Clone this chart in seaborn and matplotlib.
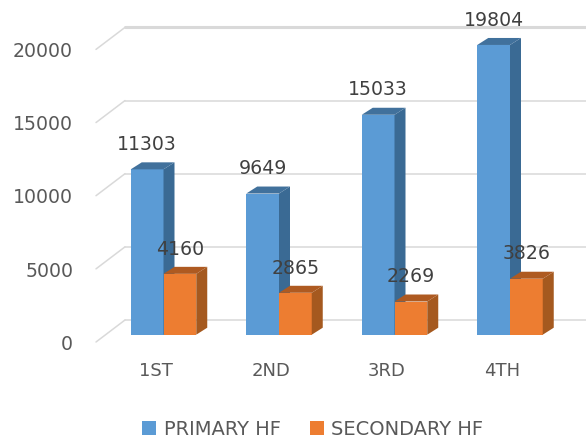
import pandas as pd
import matplotlib.pyplot as plt
import matplotlib.transforms as mtrans
from matplotlib.patches import Polygon
import seaborn as sns

quarters = ['1ST', '2ND', '3RD', '4TH']
primary_hf = [11303, 9649, 15033, 19804]
secondary_hf = [4160, 2865, 2269, 3826]
y_ticks = [0, 5000, 10000, 15000, 20000]

df = pd.DataFrame({
    'quarter': quarters * 2,
    'value': primary_hf + secondary_hf,
    'kind': ['PRIMARY HF'] * 4 + ['SECONDARY HF'] * 4,
})

sns.set_theme(style='white')
plt.rcParams['font.family'] = ['DejaVu Sans']
text_col = '#595959'
grid_col = '#d9d9d9'

fig = plt.figure(figsize=(5.86, 4.4), dpi=100)
ax = fig.add_axes([96 / 586, 1 - 334.7 / 440, 490 / 586, 334.7 / 440])

sns.barplot(data=df, x='quarter', y='value', hue='kind', ax=ax, width=0.567, gap=0,
            palette=['#5b9bd5', '#ed7d31'], saturation=1, errorbar=None,
            linewidth=0, edgecolor='none')

# pixel scale of the chart
px_x = 115.5
px_y = 292.6 / 20000
ax.set_xlim((96 - 163.5) / px_x, (586 - 163.5) / px_x)
ax.set_ylim(0, 334.7 / px_y)
sns.despine(ax=ax, left=True, bottom=True)
ax.set_xlabel('')
ax.set_ylabel('')

# fake 3d walls: gridlines pushed back, with a slanted stub at the left
back = mtrans.Affine2D().translate(0, 14.7)
front = mtrans.Affine2D().translate(0, -7.3)
ytrans = ax.get_yaxis_transform()
for t in y_ticks:
    lw = 2.2 if t == 20000 else 1.1
    ax.plot([29 / 490, 1], [t, t], color=grid_col, lw=lw, transform=ytrans + back,
            zorder=1, clip_on=False)
    p0 = (ytrans + front).transform((0, t))
    p1 = (ytrans + back).transform((29 / 490, t))
    ax.plot([p0[0], p1[0]], [p0[1], p1[1]], color=grid_col, lw=1.1, transform=None,
            zorder=1, clip_on=False)

# side and top faces of each bar, each series stacked over the one before
depth_x = 11 / px_x
depth_y = 7 / px_y
shades = [('#3a6a94', '#41719c'), ('#a5591f', '#ae5a21')]
for i, (cont, (side_col, top_col)) in enumerate(zip(ax.containers, shades)):
    z = 3 + i
    for bar in cont:
        bar.set_zorder(z)
        x0 = bar.get_x()
        x1 = x0 + bar.get_width()
        h = bar.get_height()
        ax.add_patch(Polygon([(x1, 0), (x1 + depth_x, depth_y), (x1 + depth_x, h + depth_y), (x1, h)],
                             closed=True, color=side_col, lw=0, zorder=z))
        ax.add_patch(Polygon([(x0, h), (x0 + depth_x, h + depth_y), (x1 + depth_x, h + depth_y), (x1, h)],
                             closed=True, color=top_col, lw=0, zorder=z))
    ax.bar_label(cont, fmt='%d', padding=11, fontsize=13.6, color='#404040', zorder=10)

ax.set_yticks(y_ticks)
ax.set_yticklabels([str(t) for t in y_ticks])
ax.tick_params(axis='y', length=0, pad=16.5, labelsize=13.6, labelcolor=text_col)
ax.tick_params(axis='x', length=0, pad=20, labelsize=13, labelcolor=text_col)

for lab in ax.get_yticklabels():
    lab.set_transform(lab.get_transform() + mtrans.Affine2D().translate(0, -7.5))
for lab in ax.get_xticklabels():
    lab.set_transform(lab.get_transform() + mtrans.Affine2D().translate(-8, 0))

sns.move_legend(ax, 'center', bbox_to_anchor=(313 / 586, 1 - 429 / 440),
                bbox_transform=fig.transFigure, ncol=2, title=None, frameon=False,
                fontsize=14, handlelength=0.7, handleheight=0.7, columnspacing=1.5,
                handletextpad=0.4, labelcolor=text_col)

fig.savefig('out.png', dpi=100)
